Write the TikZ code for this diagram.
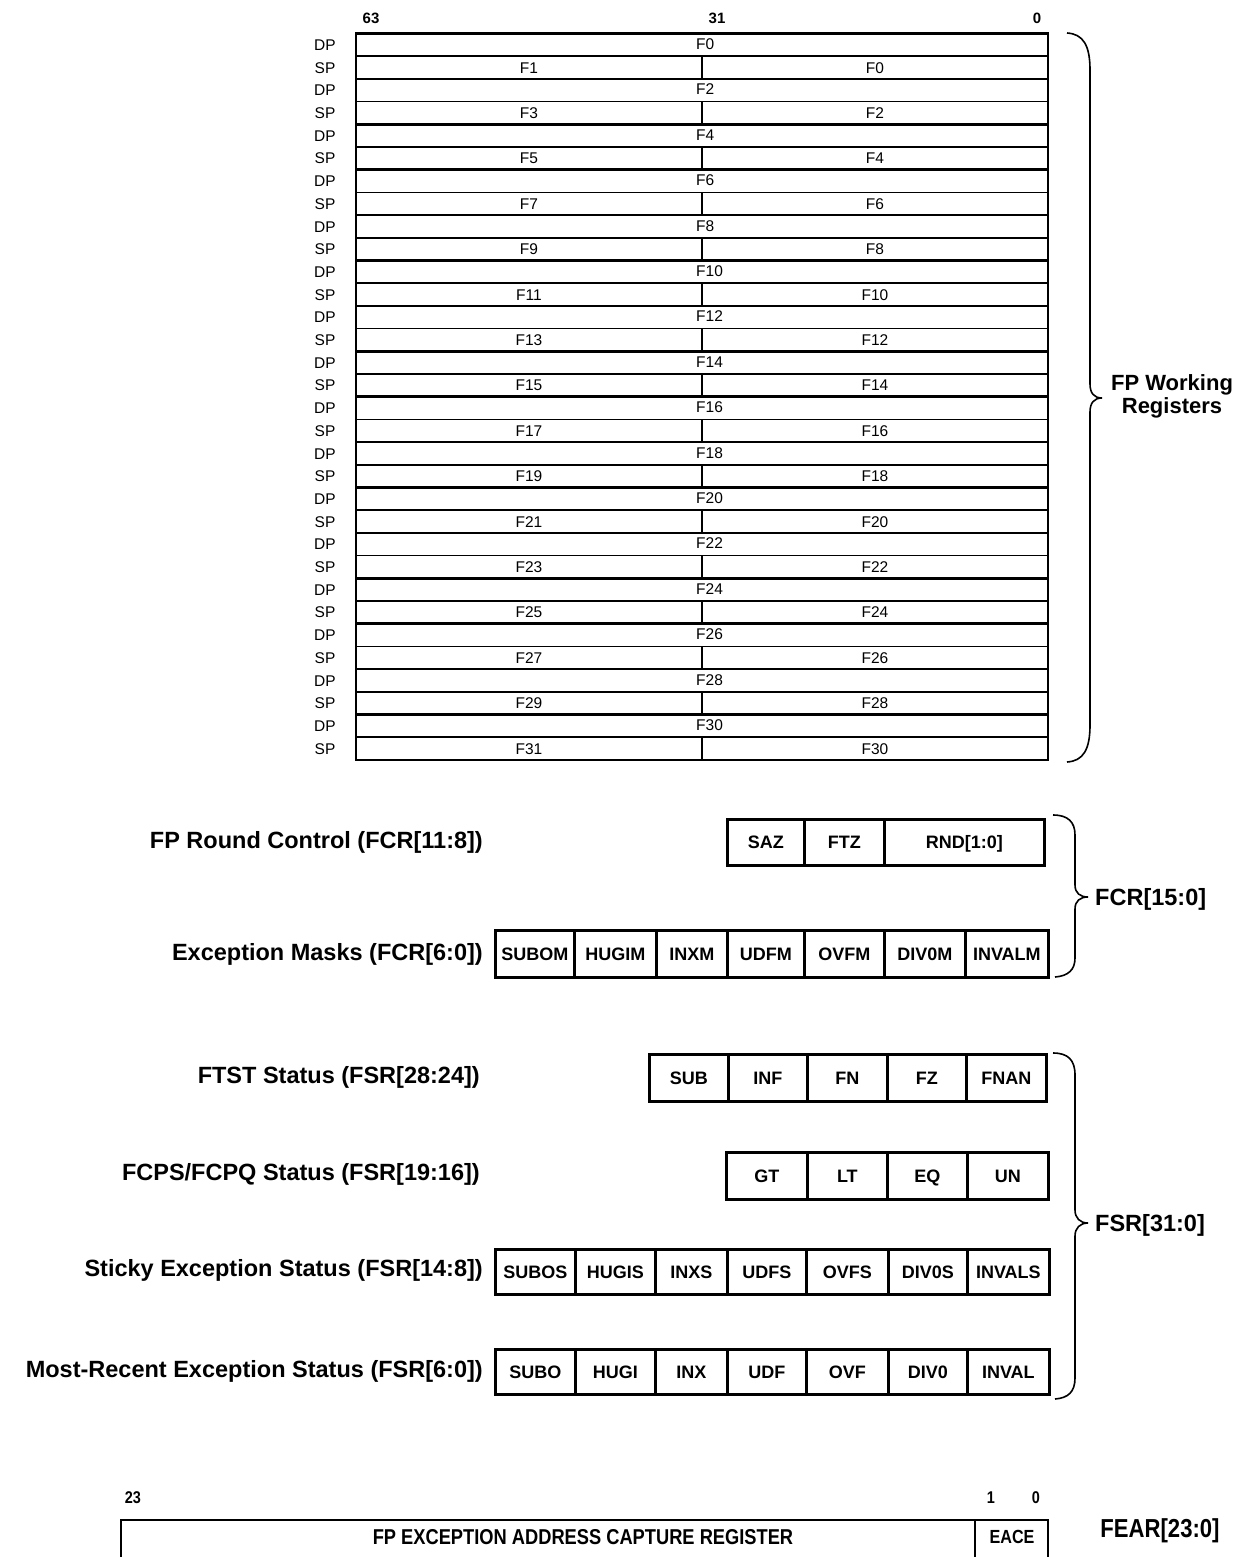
\documentclass[tikz,border=0pt]{standalone}
\usepackage{fontspec}
\setmainfont{Liberation Sans}
\newfontfamily\narrowfont[FakeStretch=0.85]{Liberation Sans}
\tikzset{
  regtext/.style={font=\fontsize{15.5}{18}\selectfont, inner sep=0pt, text height=11.1pt, text depth=0pt},
  bitnum/.style={font=\bfseries\fontsize{15}{18}\selectfont, inner sep=0pt, text height=10.7pt, text depth=0pt},
  narrowbit/.style={font=\narrowfont\bfseries\fontsize{17}{18}\selectfont, inner sep=0pt, text height=12.2pt, text depth=0pt},
  cell/.style={draw, line width=2.7pt, inner sep=0pt, anchor=north west,
    font=\bfseries\fontsize{18}{20}\selectfont, text height=12.9pt, text depth=0pt},
  biglabel/.style={font=\bfseries\fontsize{23.5}{27}\selectfont, inner sep=0pt, text height=16.8pt, text depth=0pt},
  bracepath/.style={line width=1.6pt},
  thickline/.style={line width=2.7pt},
  thinline/.style={line width=1.7pt},
}
\newcommand\fieldrow[4]{% name, ytop, ybot, list x1/x2/label
  \foreach \xa/\xb/\lab [count=\k] in {#4}{
    \node[cell, minimum width={(\xb-\xa)*1pt}, minimum height={(#3-#2)*1pt}] (#1\k) at (\xa,#2) {\lab};
  }
}
\begin{document}
\begin{tikzpicture}[x=1pt,y=-1pt]
\useasboundingbox (0,0) rectangle (1254,1557);
\fill[white] (0,0) rectangle (1254,1557);
\def\yo{33.5}
\def\pp{22.7}
% bit numbers
\node[bitnum] (b63) at (371,18) {63};
\node[bitnum] (b31) at (717,18) {31};
\node[bitnum] (b0) at (1037,18) {0};
% register table
\draw[thickline] (356,\yo) rectangle (1048,759.9);
\foreach \i in {2,4,...,30}{
  \pgfmathsetmacro\yl{\yo+\i*\pp}
  \draw[thickline] (356,\yl) -- (1048,\yl);
}
\foreach \i in {1,3,...,31}{
  \pgfmathsetmacro\yl{\yo+\i*\pp}
  \pgfmathsetmacro\ylb{\yo+(\i+1)*\pp}
  \draw[thinline] (356,\yl) -- (1048,\yl);
  \draw[thinline] (702,\yl) -- (702,\ylb);
}
\foreach \i in {0,...,15}{
  \pgfmathsetmacro\ydp{\yo+(2*\i+0.5)*\pp}
  \pgfmathsetmacro\ysp{\yo+(2*\i+1.5)*\pp}
  \pgfmathtruncatemacro\ev{2*\i}
  \pgfmathtruncatemacro\od{2*\i+1}
  \node[regtext] (dpl\i) at (325,\ydp) {DP};
  \node[regtext] (spl\i) at (325,\ysp) {SP};
  \node[regtext,anchor=west] (dp\i) at (696,\ydp-1) {F\ev};
  \node[regtext] (spa\i) at (529,\ysp) {F\od};
  \node[regtext] (spb\i) at (875,\ysp) {F\ev};
}
% FP working registers brace
\draw[bracepath] (1067,33) .. controls (1083,34) and (1090,45) .. (1090,70)
  -- (1090,384) .. controls (1090,393) and (1094,398) .. (1102,398)
  .. controls (1094,398) and (1090,403) .. (1090,412)
  -- (1090,725) .. controls (1090,750) and (1083,761) .. (1067,762);
\node[biglabel, font=\bfseries\fontsize{22}{23}\selectfont, align=center, text height=, text depth=] (fpw) at (1172,396) {FP Working\\Registers};
% FCR
\node[biglabel, anchor=east] (lrc) at (483,840) {FP Round Control (FCR[11:8])};
\fieldrow{rc}{818}{864}{726/803/SAZ, 803/883/FTZ, 883/1043/{RND[1:0]}}
\node[biglabel, anchor=east] (lem) at (483,952) {Exception Masks (FCR[6:0])};
\fieldrow{em}{929}{976}{494/573/SUBOM, 573/655/HUGIM, 655/726/INXM, 726/803/UDFM, 803/883/OVFM, 883/964/DIV0M, 964/1047/INVALM}
\draw[bracepath] (1053,815) .. controls (1068,815) and (1075,822) .. (1075,835)
  -- (1075,885) .. controls (1075,893) and (1080,897) .. (1088,897)
  .. controls (1080,897) and (1075,901) .. (1075,909)
  -- (1075,958) .. controls (1075,970) and (1068,976) .. (1055,977);
\node[biglabel, anchor=west] (fcr) at (1095,897) {FCR[15:0]};
% FSR
\node[biglabel, anchor=east] (lft) at (480,1075) {FTST Status (FSR[28:24])};
\fieldrow{ft}{1053}{1100}{648/727/SUB, 727/806/INF, 806/886/FN, 886/965/FZ, 965/1045/FNAN}
\node[biglabel, anchor=east] (lfc) at (480,1172) {FCPS/FCPQ Status (FSR[19:16])};
\fieldrow{fc}{1151}{1198}{725/806/GT, 806/886/LT, 886/966/EQ, 966/1047/UN}
\node[biglabel, anchor=east] (lst) at (483,1268) {Sticky Exception Status (FSR[14:8])};
\fieldrow{st}{1248}{1293}{494/574/SUBOS, 574/654/HUGIS, 654/726/INXS, 726/805/UDFS, 805/887/OVFS, 887/966/DIV0S, 966/1048/INVALS}
\node[biglabel, anchor=east] (lmr) at (483,1369) {Most-Recent Exception Status (FSR[6:0])};
\fieldrow{mr}{1348}{1393}{494/574/SUBO, 574/654/HUGI, 654/726/INX, 726/805/UDF, 805/887/OVF, 887/966/DIV0, 966/1048/INVAL}
\draw[bracepath] (1053,1053) .. controls (1068,1053) and (1075,1060) .. (1075,1075)
  -- (1075,1210) .. controls (1075,1218) and (1080,1223) .. (1088,1223)
  .. controls (1080,1223) and (1075,1228) .. (1075,1236)
  -- (1075,1378) .. controls (1075,1392) and (1068,1398) .. (1055,1399);
\node[biglabel, anchor=west] (fsr) at (1095,1223) {FSR[31:0]};
% FEAR
\node[narrowbit] (f23) at (133,1497) {23};
\node[narrowbit] (f1) at (991,1497) {1};
\node[narrowbit] (f0) at (1036,1497) {0};
\draw[thickline] (121,1560) -- (121,1520) -- (1048,1520) -- (1048,1560);
\draw[thickline] (975,1520) -- (975,1560);
\node[font=\narrowfont\bfseries\fontsize{21.5}{23}\selectfont, inner sep=0pt] (fearx) at (583,1537) {FP EXCEPTION ADDRESS CAPTURE REGISTER};
\node[font=\narrowfont\bfseries\fontsize{19}{20}\selectfont, inner sep=0pt] (eace) at (1012,1537) {EACE};
\node[font=\narrowfont\bfseries\fontsize{26}{27}\selectfont, inner sep=0pt] (fear) at (1160,1531) {FEAR[23:0]};
\end{tikzpicture}
\end{document}
